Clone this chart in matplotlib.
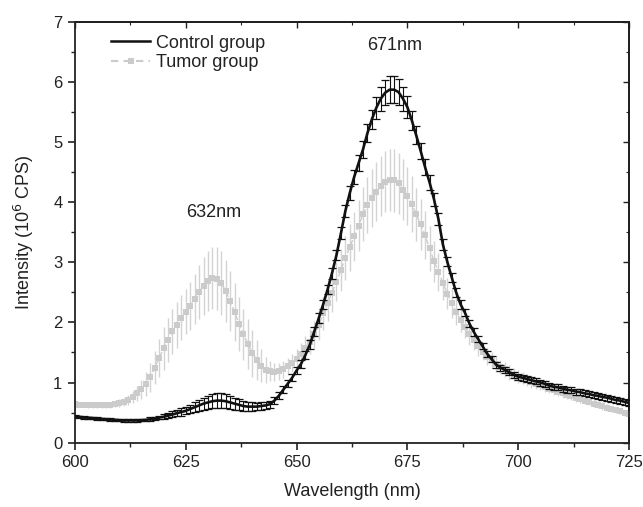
import numpy as np
import matplotlib
matplotlib.use("Agg")
import matplotlib.pyplot as plt
from matplotlib.lines import Line2D

plt.rcParams['font.family'] = ['Liberation Sans', 'DejaVu Sans']

wavelength = list(range(600, 726))

control = [
    0.44, 0.43, 0.42, 0.415, 0.41, 0.40, 0.395, 0.39, 0.385, 0.38,
    0.375, 0.37, 0.37, 0.37, 0.37, 0.375, 0.38, 0.39, 0.40, 0.42,
    0.43, 0.45, 0.47, 0.49, 0.51, 0.53, 0.56, 0.59, 0.62, 0.65,
    0.67, 0.69, 0.70, 0.70, 0.69, 0.67, 0.65, 0.63, 0.61, 0.60,
    0.60, 0.60, 0.61, 0.62, 0.64, 0.70, 0.78, 0.88, 0.98, 1.08,
    1.20, 1.31, 1.46, 1.63, 1.85, 2.07, 2.30, 2.55, 2.82, 3.12,
    3.48, 3.85, 4.15, 4.42, 4.65, 4.88, 5.15, 5.38, 5.57, 5.72,
    5.82, 5.87, 5.87, 5.83, 5.72, 5.58, 5.36, 5.11, 4.85, 4.58,
    4.33, 4.05, 3.72, 3.30, 3.01, 2.75, 2.50, 2.30, 2.16, 1.98,
    1.84, 1.72, 1.60, 1.48, 1.39, 1.30, 1.25, 1.21, 1.17, 1.13,
    1.10, 1.08, 1.06, 1.04, 1.02, 1.00, 0.98, 0.95, 0.93, 0.92,
    0.90, 0.88, 0.87, 0.85, 0.84, 0.82, 0.81, 0.79, 0.78, 0.76,
    0.75, 0.73, 0.71, 0.70, 0.68, 0.66,
]

control_err = [
    0.02, 0.02, 0.02, 0.02, 0.02, 0.02, 0.02, 0.02, 0.02, 0.02,
    0.02, 0.02, 0.02, 0.02, 0.02, 0.02, 0.02, 0.03, 0.03, 0.03,
    0.04, 0.04, 0.05, 0.05, 0.06, 0.06, 0.07, 0.08, 0.09, 0.10,
    0.11, 0.12, 0.13, 0.13, 0.12, 0.11, 0.10, 0.09, 0.08, 0.07,
    0.07, 0.06, 0.06, 0.06, 0.06, 0.06, 0.06, 0.06, 0.06, 0.06,
    0.06, 0.06, 0.07, 0.07, 0.07, 0.08, 0.08, 0.08, 0.09, 0.09,
    0.10, 0.10, 0.11, 0.12, 0.13, 0.14, 0.15, 0.16, 0.18, 0.20,
    0.21, 0.22, 0.22, 0.21, 0.20, 0.18, 0.16, 0.15, 0.14, 0.13,
    0.12, 0.11, 0.10, 0.09, 0.08, 0.08, 0.07, 0.07, 0.06, 0.06,
    0.06, 0.05, 0.05, 0.05, 0.05, 0.05, 0.05, 0.05, 0.05, 0.05,
    0.05, 0.05, 0.05, 0.05, 0.05, 0.05, 0.05, 0.05, 0.05, 0.05,
    0.05, 0.05, 0.05, 0.05, 0.05, 0.05, 0.05, 0.05, 0.05, 0.05,
    0.05, 0.05, 0.05, 0.05, 0.05, 0.05,
]

tumor = [
    0.64, 0.635, 0.63, 0.625, 0.62, 0.62, 0.62, 0.625, 0.63, 0.64,
    0.66, 0.68, 0.71, 0.76, 0.82, 0.89, 0.97, 1.09, 1.25, 1.41,
    1.57, 1.71, 1.85, 1.96, 2.08, 2.18, 2.27, 2.39, 2.51, 2.61,
    2.69, 2.74, 2.73, 2.66, 2.52, 2.36, 2.17, 1.98, 1.80, 1.64,
    1.49, 1.38, 1.28, 1.21, 1.19, 1.18, 1.19, 1.22, 1.27, 1.33,
    1.40, 1.48, 1.58, 1.68, 1.80, 1.95, 2.15, 2.32, 2.49, 2.68,
    2.87, 3.07, 3.25, 3.43, 3.61, 3.80, 3.95, 4.07, 4.17, 4.27,
    4.34, 4.37, 4.36, 4.31, 4.21, 4.10, 3.97, 3.80, 3.63, 3.45,
    3.23, 3.02, 2.84, 2.66, 2.48, 2.32, 2.18, 2.04, 1.92, 1.80,
    1.70, 1.60, 1.51, 1.43, 1.37, 1.31, 1.26, 1.22, 1.17, 1.13,
    1.10, 1.07, 1.04, 1.01, 0.98, 0.96, 0.93, 0.90, 0.88, 0.85,
    0.83, 0.80, 0.78, 0.75, 0.73, 0.70, 0.68, 0.65, 0.63, 0.61,
    0.58, 0.56, 0.54, 0.52, 0.50, 0.48,
]

tumor_err = [
    0.04, 0.04, 0.04, 0.04, 0.04, 0.04, 0.04, 0.05, 0.05, 0.05,
    0.06, 0.07, 0.08, 0.10, 0.13, 0.16, 0.20, 0.24, 0.28, 0.32,
    0.36, 0.37, 0.38, 0.38, 0.38, 0.38, 0.40, 0.42, 0.45, 0.48,
    0.50, 0.52, 0.53, 0.53, 0.52, 0.50, 0.48, 0.45, 0.43, 0.41,
    0.39, 0.33, 0.27, 0.21, 0.17, 0.15, 0.14, 0.14, 0.14, 0.15,
    0.16, 0.17, 0.19, 0.21, 0.23, 0.25, 0.27, 0.29, 0.31, 0.33,
    0.35, 0.37, 0.39, 0.41, 0.43, 0.45, 0.47, 0.48, 0.49, 0.50,
    0.51, 0.52, 0.52, 0.51, 0.50, 0.48, 0.46, 0.44, 0.42, 0.40,
    0.37, 0.34, 0.31, 0.28, 0.26, 0.24, 0.22, 0.20, 0.18, 0.17,
    0.16, 0.15, 0.14, 0.14, 0.13, 0.13, 0.12, 0.12, 0.12, 0.11,
    0.11, 0.10, 0.10, 0.10, 0.09, 0.09, 0.09, 0.08, 0.08, 0.08,
    0.08, 0.07, 0.07, 0.07, 0.07, 0.06, 0.06, 0.06, 0.06, 0.06,
    0.06, 0.05, 0.05, 0.05, 0.05, 0.05,
]

series_labels = ["Control group", "Tumor group"]
peak_labels = ["632nm", "671nm"]
peak_pos = [(631.2, 3.82), (672.2, 6.6)]

fig = plt.figure(figsize=(6.43, 5.07), dpi=100)
ax = fig.add_axes([0.1166, 0.1268, 0.8616, 0.8304])

gray = '#cbcbcb'
ax.errorbar(wavelength, tumor, yerr=tumor_err, color=gray, ecolor='#d3d3d3',
            elinewidth=1.0, capsize=3.2, capthick=1.0, marker='s', markersize=3.8,
            markeredgewidth=0, linestyle=(0, (4, 2)), linewidth=1.0, zorder=2)
ax.errorbar(wavelength, control, yerr=control_err, color='#111111', ecolor='#111111',
            elinewidth=0.8, capsize=3.0, capthick=0.9, linewidth=1.9, zorder=3)

ax.set_xlim(600, 725)
ax.set_ylim(0, 7)
ax.set_xticks([600, 625, 650, 675, 700, 725])
ax.set_xticks(np.arange(600, 726, 12.5), minor=True)
ax.set_yticks(range(0, 8))
ax.set_yticks(np.arange(0, 7.01, 0.5), minor=True)

for sp in ax.spines.values():
    sp.set_linewidth(1.3)
    sp.set_color('#222222')

ax.tick_params(axis='both', which='major', direction='out', length=5, width=1.2,
               labelsize=12, colors='#222222', pad=4)
ax.tick_params(axis='both', which='minor', direction='out', length=3, width=1.0, colors='#222222')

# top and right ticks (inward, no labels)
axt = ax.secondary_xaxis('top')
axt.set_xticks([600, 625, 650, 675, 700, 725])
axt.set_xticks(np.arange(600, 726, 12.5), minor=True)
axt.tick_params(which='major', direction='in', length=4, width=1.0, labeltop=False, colors='#222222')
axt.tick_params(which='minor', direction='in', length=2.5, width=0.8, colors='#222222')
axt.spines['top'].set_linewidth(1.3)
axr = ax.secondary_yaxis('right')
axr.set_yticks(range(0, 8))
axr.set_yticks(np.arange(0, 7.01, 0.5), minor=True)
axr.tick_params(which='major', direction='in', length=4, width=1.0, labelright=False, colors='#222222')
axr.tick_params(which='minor', direction='in', length=2.5, width=0.8, colors='#222222')
axr.spines['right'].set_linewidth(1.3)

ax.set_xlabel("Wavelength (nm)", fontsize=13, color='#222222', labelpad=9)
ax.set_ylabel("Intensity (10$^6$ CPS)", fontsize=13, color='#222222', labelpad=12)

for lab, (x, y) in zip(peak_labels, peak_pos):
    ax.text(x, y, lab, fontsize=13, ha='center', va='center', color='#222222')

handles = [
    Line2D([], [], color='#111111', linewidth=1.8),
    Line2D([], [], color=gray, linewidth=1.5, linestyle=(0, (3.5, 2.5)), marker='s',
           markersize=4, markeredgewidth=0),
]
leg = ax.legend(handles, series_labels, loc='upper left', bbox_to_anchor=(0.045, 0.995),
                frameon=False, fontsize=13, handlelength=2.2, handletextpad=0.3,
                labelspacing=0.15, borderaxespad=0.2)
for t in leg.get_texts():
    t.set_color('#222222')

fig.savefig("out.png", dpi=100)
